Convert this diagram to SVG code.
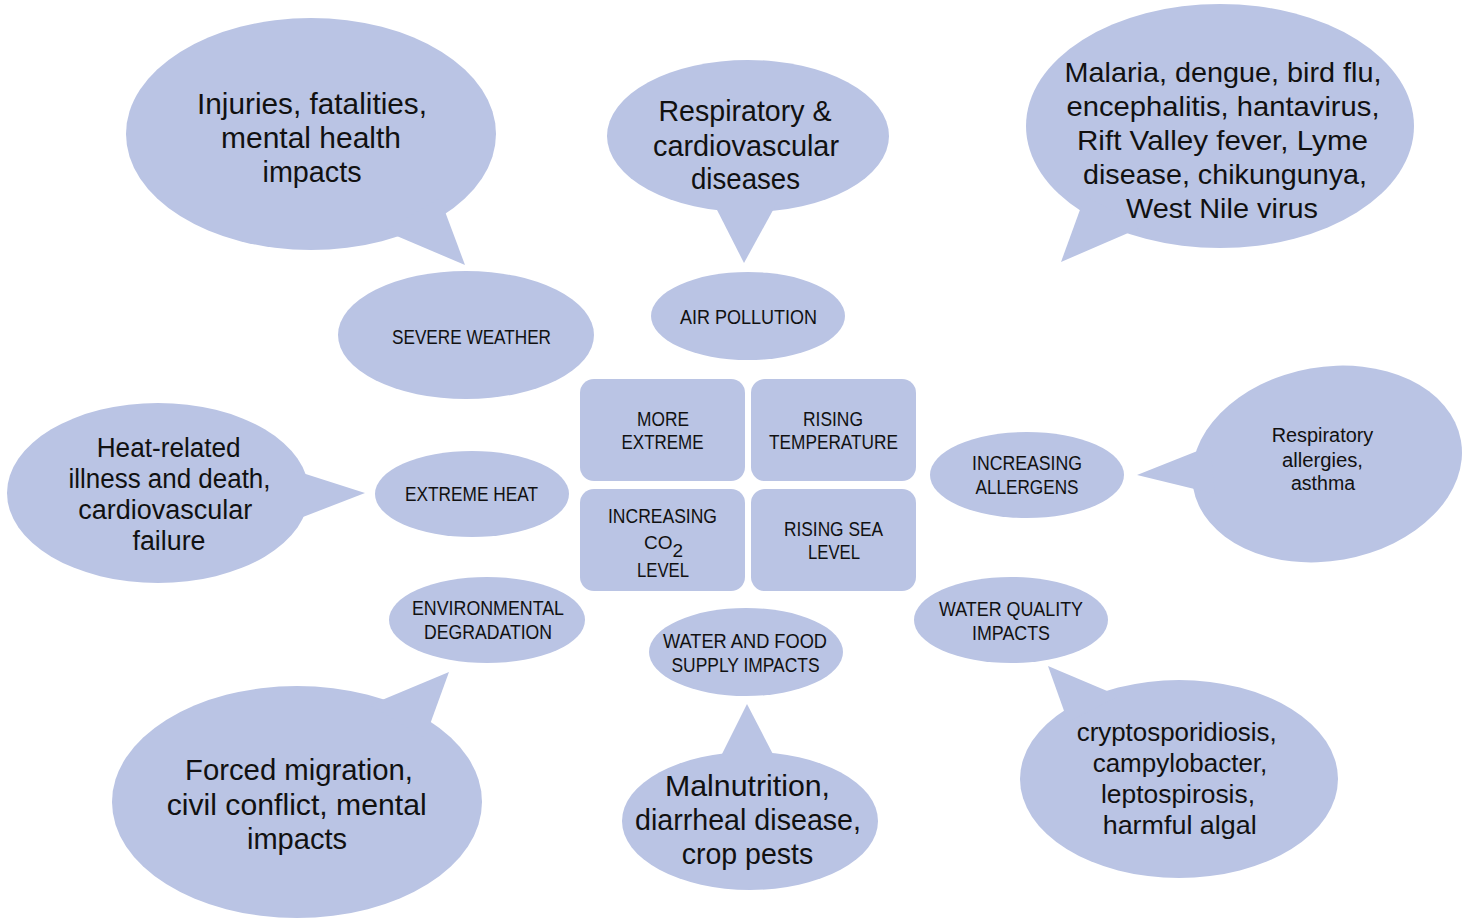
<svg xmlns="http://www.w3.org/2000/svg" width="1468" height="921" viewBox="0 0 1468 921">
<style>
.s{fill:#BAC4E4;stroke:none}
text{font-family:"Liberation Sans",Arial,sans-serif;fill:#111;text-anchor:middle}
.c{font-size:19.5px}
.f29{font-size:29px}
.f28{font-size:28.5px}
.f27{font-size:27px}
.f26{font-size:26px}
.f20{font-size:19.5px}
</style>
<rect width="1468" height="921" fill="#fff"/>

<g id="center-more-extreme">
<rect class="s" x="580" y="379" width="165" height="102" rx="14"/>
<text class="c" x="663" y="426" textLength="52" lengthAdjust="spacingAndGlyphs">MORE</text>
<text class="c" x="662.5" y="449" textLength="82" lengthAdjust="spacingAndGlyphs">EXTREME</text>
</g>
<g id="center-rising-temperature">
<rect class="s" x="751" y="379" width="165" height="102" rx="14"/>
<text class="c" x="833" y="426" textLength="60" lengthAdjust="spacingAndGlyphs">RISING</text>
<text class="c" x="833.5" y="449" textLength="129" lengthAdjust="spacingAndGlyphs">TEMPERATURE</text>
</g>
<g id="center-increasing-co2">
<rect class="s" x="580" y="489" width="165" height="102" rx="14"/>
<text class="c" x="662.5" y="523" textLength="109" lengthAdjust="spacingAndGlyphs">INCREASING</text>
<text class="c" x="644" y="549" style="text-anchor:start;font-size:19px">CO<tspan dy="8">2</tspan></text>
<text class="c" x="663" y="577" textLength="52" lengthAdjust="spacingAndGlyphs">LEVEL</text>
</g>
<g id="center-rising-sea-level">
<rect class="s" x="751" y="489" width="165" height="102" rx="14"/>
<text class="c" x="833.5" y="535.5" textLength="99" lengthAdjust="spacingAndGlyphs">RISING SEA</text>
<text class="c" x="834" y="559" textLength="52" lengthAdjust="spacingAndGlyphs">LEVEL</text>
</g>

<g id="severe-weather">
<ellipse class="s" cx="466" cy="335" rx="128" ry="64"/>
<text class="c" x="471.5" y="344" textLength="159" lengthAdjust="spacingAndGlyphs">SEVERE WEATHER</text>
</g>
<g id="air-pollution">
<ellipse class="s" cx="748" cy="316" rx="97" ry="44"/>
<text class="c" x="748.5" y="324" textLength="137" lengthAdjust="spacingAndGlyphs">AIR POLLUTION</text>
</g>
<g id="extreme-heat">
<ellipse class="s" cx="472" cy="494" rx="97" ry="43"/>
<text class="c" x="471.5" y="501" textLength="133" lengthAdjust="spacingAndGlyphs">EXTREME HEAT</text>
</g>
<g id="increasing-allergens">
<ellipse class="s" cx="1027" cy="475" rx="97" ry="43"/>
<text class="c" x="1027" y="470" textLength="110" lengthAdjust="spacingAndGlyphs">INCREASING</text>
<text class="c" x="1027" y="494" textLength="103" lengthAdjust="spacingAndGlyphs">ALLERGENS</text>
</g>
<g id="environmental-degradation">
<ellipse class="s" cx="487" cy="620" rx="98" ry="43"/>
<text class="c" x="488" y="615" textLength="152" lengthAdjust="spacingAndGlyphs">ENVIRONMENTAL</text>
<text class="c" x="488" y="639" textLength="128" lengthAdjust="spacingAndGlyphs">DEGRADATION</text>
</g>
<g id="water-food-supply">
<ellipse class="s" cx="746" cy="652" rx="97" ry="44"/>
<text class="c" x="745" y="648" textLength="164" lengthAdjust="spacingAndGlyphs">WATER AND FOOD</text>
<text class="c" x="745.5" y="672" textLength="148" lengthAdjust="spacingAndGlyphs">SUPPLY IMPACTS</text>
</g>
<g id="water-quality">
<ellipse class="s" cx="1011" cy="620" rx="97" ry="43"/>
<text class="c" x="1011" y="616" textLength="144" lengthAdjust="spacingAndGlyphs">WATER QUALITY</text>
<text class="c" x="1011" y="640" textLength="78" lengthAdjust="spacingAndGlyphs">IMPACTS</text>
</g>

<g id="bubble-injuries">
<ellipse class="s" cx="311" cy="134" rx="185" ry="116"/>
<polygon class="s" points="440,198 465,265 385,231"/>
<text class="f29" x="312" y="114" textLength="230" lengthAdjust="spacingAndGlyphs">Injuries, fatalities,</text>
<text class="f29" x="311" y="148" textLength="180" lengthAdjust="spacingAndGlyphs">mental health</text>
<text class="f29" x="312" y="182" textLength="99" lengthAdjust="spacingAndGlyphs">impacts</text>
</g>
<g id="bubble-respiratory-cardio">
<ellipse class="s" cx="748" cy="136" rx="141" ry="76"/>
<polygon class="s" points="713,202 744,263 777.5,202"/>
<text class="f29" x="745" y="121" textLength="173" lengthAdjust="spacingAndGlyphs">Respiratory &amp;</text>
<text class="f29" x="746" y="155.5" textLength="186" lengthAdjust="spacingAndGlyphs">cardiovascular</text>
<text class="f29" x="745.5" y="189" textLength="109" lengthAdjust="spacingAndGlyphs">diseases</text>
</g>
<g id="bubble-vector-diseases">
<ellipse class="s" cx="1220" cy="126" rx="194" ry="122"/>
<polygon class="s" points="1085,196 1061,262 1142,227"/>
<text class="f28" x="1223" y="82" textLength="317" lengthAdjust="spacingAndGlyphs">Malaria, dengue, bird flu,</text>
<text class="f28" x="1223" y="116" textLength="313" lengthAdjust="spacingAndGlyphs">encephalitis, hantavirus,</text>
<text class="f28" x="1222.5" y="150" textLength="291" lengthAdjust="spacingAndGlyphs">Rift Valley fever, Lyme</text>
<text class="f28" x="1225" y="184" textLength="284" lengthAdjust="spacingAndGlyphs">disease, chikungunya,</text>
<text class="f28" x="1222" y="218" textLength="192" lengthAdjust="spacingAndGlyphs">West Nile virus</text>
</g>
<g id="bubble-allergies">
<ellipse class="s" cx="1327" cy="464" rx="136" ry="97" transform="rotate(-10 1327 464)"/>
<polygon class="s" points="1210,446 1137,475 1215,494"/>
<text class="f20" x="1322.5" y="441.5" textLength="101.6" lengthAdjust="spacingAndGlyphs">Respiratory</text>
<text class="f20" x="1322.5" y="466.5" textLength="81" lengthAdjust="spacingAndGlyphs">allergies,</text>
<text class="f20" x="1323" y="490" textLength="64" lengthAdjust="spacingAndGlyphs">asthma</text>
</g>
<g id="bubble-heat">
<ellipse class="s" cx="158" cy="493" rx="151" ry="90"/>
<polygon class="s" points="290,469 365,493 290,522"/>
<text class="f27" x="168.7" y="457" textLength="144" lengthAdjust="spacingAndGlyphs">Heat-related</text>
<text class="f27" x="169.5" y="488" textLength="202" lengthAdjust="spacingAndGlyphs">illness and death,</text>
<text class="f27" x="165.3" y="519" textLength="174" lengthAdjust="spacingAndGlyphs">cardiovascular</text>
<text class="f27" x="169" y="550" textLength="73" lengthAdjust="spacingAndGlyphs">failure</text>
</g>
<g id="bubble-migration">
<ellipse class="s" cx="297" cy="802" rx="185" ry="116"/>
<polygon class="s" points="370,705 449,672 425,738"/>
<text class="f29" x="299" y="780" textLength="228" lengthAdjust="spacingAndGlyphs">Forced migration,</text>
<text class="f29" x="296.7" y="815" textLength="260" lengthAdjust="spacingAndGlyphs">civil conflict, mental</text>
<text class="f29" x="297" y="849" textLength="100" lengthAdjust="spacingAndGlyphs">impacts</text>
</g>
<g id="bubble-malnutrition">
<ellipse class="s" cx="750" cy="821" rx="128" ry="69"/>
<polygon class="s" points="718,762 747,704 777,762"/>
<text class="f29" x="747.5" y="796" textLength="165" lengthAdjust="spacingAndGlyphs">Malnutrition,</text>
<text class="f29" x="748" y="830" textLength="226" lengthAdjust="spacingAndGlyphs">diarrheal disease,</text>
<text class="f29" x="747.5" y="864" textLength="131.6" lengthAdjust="spacingAndGlyphs">crop pests</text>
</g>
<g id="bubble-waterborne">
<ellipse class="s" cx="1179" cy="779" rx="159" ry="99"/>
<polygon class="s" points="1068,722 1048,666 1119,696"/>
<text class="f26" x="1176.7" y="741" textLength="200" lengthAdjust="spacingAndGlyphs">cryptosporidiosis,</text>
<text class="f26" x="1180" y="772" textLength="174.6" lengthAdjust="spacingAndGlyphs">campylobacter,</text>
<text class="f26" x="1178" y="803" textLength="154" lengthAdjust="spacingAndGlyphs">leptospirosis,</text>
<text class="f26" x="1179.7" y="834" textLength="154" lengthAdjust="spacingAndGlyphs">harmful algal</text>
</g>

<g id="connectors"></g>
</svg>
